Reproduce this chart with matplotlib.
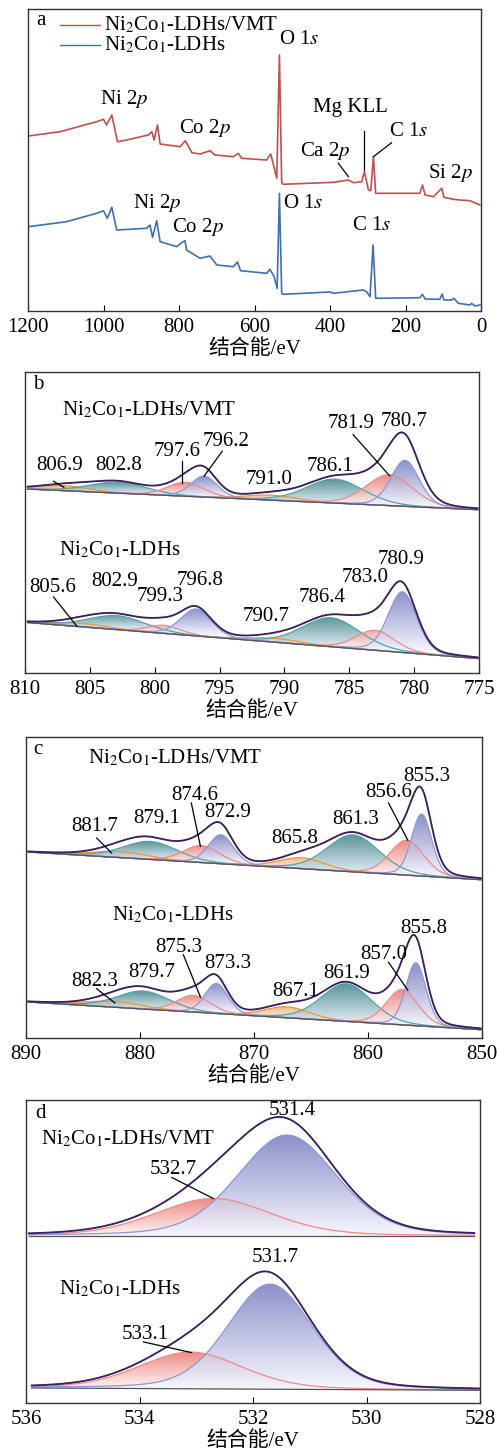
import numpy as np
import matplotlib
matplotlib.use("Agg")
import matplotlib.pyplot as plt
from matplotlib.colors import LinearSegmentedColormap

plt.rcParams['font.family'] = ['Liberation Serif', 'Noto Sans CJK SC', 'DejaVu Sans']
plt.rcParams['mathtext.fontset'] = 'stix'
FS = 15

# ---------------- Panel a : survey spectra ----------------
a_vmt_E = [1199, 1115, 1018, 1000, 992, 978, 963, 939, 881, 872, 866, 857, 850, 797, 783, 766, 744,
           718, 705, 656, 643, 634, 568, 557, 541, 534, 528, 524, 391, 351, 338, 316, 309, 298, 292,
           285, 279, 162, 155, 148, 126, 104, 98, 73, 56, 29, 3]
a_vmt_I = [175, 179.3, 189.3, 191.7, 186, 196, 169.3, 171, 176, 179.3, 171, 186, 167, 164.3, 170.3,
           158.3, 157, 160.3, 156, 154.3, 157.7, 152.7, 151, 157, 132.7, 256, 128.3, 126.7, 128.7,
           131, 128.3, 129.3, 139.3, 121, 120.3, 154.3, 117.7, 117.7, 126, 116, 114.3, 122.7, 113.7,
           111.7, 111, 110.3, 106]
a_ldh_E = [1199, 1098, 1018, 1000, 990, 978, 965, 886, 877, 870, 859, 850, 806, 793, 784, 780, 744,
           718, 700, 656, 645, 637, 568, 559, 548, 540, 534, 528, 524, 400, 391, 312, 303, 294, 286,
           279, 162, 155, 148, 109, 103, 98, 78, 72, 60, 29, 25, 16, 3]
a_ldh_I = [84.3, 89.3, 97.7, 100.3, 92.7, 103.7, 81, 82.7, 86, 73.7, 90.3, 69.3, 64.3, 68.3, 70.3, 61,
           52.7, 55, 46, 44.3, 49, 40.3, 37.7, 41.7, 34.3, 22.7, 117.7, 17.7, 16.7, 19, 17.7, 21, 19.3,
           14.3, 66, 12.7, 13.3, 16.7, 12, 11.7, 17, 11, 11, 12.7, 7.7, 6, 7.7, 5, 6]
a_ticks = [1200, 1000, 800, 600, 400, 200, 0]
series_names = ['Ni$_2$Co$_1$-LDHs/VMT', 'Ni$_2$Co$_1$-LDHs']

# ---------------- Panel b : Co 2p ----------------
b_ticks = [810, 805, 800, 795, 790, 785, 780, 775]
b_types = ['orange', 'teal', 'red', 'blue', 'orange', 'teal', 'red', 'blue']
b_top_centers = [806.9, 802.8, 797.6, 796.2, 791.0, 786.1, 781.9, 780.7]
b_top_heights = [5, 11, 14, 21, 5, 24, 31, 46]
b_top_fwhm = [4.7, 5.2, 3.3, 2.4, 4.7, 5.2, 4.2, 2.6]
b_top_base = [(809.8, 184.0), (775.1, 163.3)]
b_bot_centers = [805.6, 802.9, 799.3, 796.8, 790.7, 786.4, 783.0, 780.9]
b_bot_heights = [3.5, 14, 8, 27, 4, 29, 20, 60.7]
b_bot_fwhm = [4.7, 5.2, 3.1, 2.8, 4.7, 5.2, 3.5, 2.6]
b_bot_base = [(809.8, 50.5), (775.1, 14.5)]

# ---------------- Panel c : Ni 2p ----------------
c_ticks = [890, 880, 870, 860, 850]
c_types = ['orange', 'teal', 'red', 'blue', 'orange', 'teal', 'red', 'blue']
c_top_centers = [881.7, 879.1, 874.6, 872.9, 865.8, 861.3, 856.6, 855.3]
c_top_heights = [6, 18, 17, 29, 11, 37, 35, 62]
c_top_fwhm = [5.9, 5.6, 3.8, 2.6, 4.7, 5.4, 3.5, 2.1]
c_top_base = [(889.8, 186.0), (850.1, 158.3)]
c_bot_centers = [882.3, 879.7, 875.3, 873.3, 867.1, 861.9, 857.0, 855.8]
c_bot_heights = [6, 18, 16.7, 30, 11, 37.7, 35.3, 63]
c_bot_fwhm = [5.9, 5.4, 3.5, 2.4, 4.7, 5.2, 3.3, 2.1]
c_bot_base = [(889.8, 36.0), (850.1, 8.3)]

# ---------------- Panel d : O 1s ----------------
d_ticks = [536, 534, 532, 530, 528]
d_types = ['red', 'blue']
d_top_centers = [532.7, 531.4]
d_top_heights = [37.3, 100.7]
d_top_fwhm = [2.4, 2.05]
d_top_base = [(535.95, 167.0), (528.1, 167.0)]
d_bot_centers = [533.1, 531.7]
d_bot_heights = [36.7, 105]
d_bot_fwhm = [2.15, 1.76]
d_bot_base = [(535.9, 15.0), (528.0, 12.7)]

# styles
STYLE = {
    'blue':   dict(top='#7b82c3', bot='#f6f6fd', edge='#8d96dc'),
    'red':    dict(top='#ec7a75', bot='#fff5f5', edge='#f08a84'),
    'teal':   dict(top='#478688', bot='#d8e8f2', edge='#4fa6ae'),
    'orange': dict(top='#ef9c5c', bot='#f6e7de', edge='#f3962e'),
}
ENV = '#3b1f5e'
XLABEL = '结合能/eV'

W, H = 497, 1452
fig = plt.figure(figsize=(W / 100, H / 100), dpi=100)


def add_ax(l, r, t, b):
    return fig.add_axes([l / W, 1 - b / H, (r - l) / W, (b - t) / H])


def style_ax(ax, xlim, ylim, ticks):
    ax.set_xlim(*xlim)
    ax.set_ylim(*ylim)
    ax.set_xticks(ticks)
    ax.set_xticklabels([str(t) for t in ticks])
    ax.set_yticks([])
    ax.tick_params(axis='x', direction='in', length=4.5, width=0.8, labelsize=FS, pad=5)
    for s in ax.spines.values():
        s.set_linewidth(1.0)
        s.set_color('#333333')
    ax.set_xlabel(XLABEL, fontsize=FS, labelpad=2)


def pv(x, c, h, fw, eta=0.2):
    s = fw / 2.3548
    g = np.exp(-(x - c) ** 2 / (2 * s * s))
    lo = 1.0 / (1.0 + ((x - c) / (fw / 2)) ** 2)
    return h * (eta * lo + (1 - eta) * g)


def grad_fill(ax, x, ybot, ytop, ybase_c, st, z):
    poly = ax.fill_between(x, ybot, ytop, facecolor='none', edgecolor='none')
    path = poly.get_paths()[0]
    cmap = LinearSegmentedColormap.from_list('g', [st['bot'], st['top']])
    y0, y1 = ybot.min(), ytop.max()
    yy = np.linspace(y0, y1, 300)
    grad = np.clip((yy - ybase_c) / max(y1 - ybase_c, 1e-6), 0, 1).reshape(-1, 1)
    im = ax.imshow(grad, cmap=cmap, aspect='auto', origin='lower', vmin=0, vmax=1,
                   extent=[x.min(), x.max(), y0, y1],
                   alpha=0.88, zorder=z, interpolation='bilinear')
    im.set_clip_path(path, transform=ax.transData)


def draw_fit(ax, types, centers, heights, fwhm, base, xlim, ylim, eta=0.2):
    (e0, b0), (e1, b1) = base
    x = np.linspace(min(e0, e1), max(e0, e1), 800)
    bl = b1 + (b0 - b1) * (x - e1) / (e0 - e1)
    env = bl.copy()
    order = ['orange', 'teal', 'red', 'blue']
    comps = []
    for t, c, h, fw in zip(types, centers, heights, fwhm):
        g = pv(x, c, h, fw, eta)
        env += g
        bc = b1 + (b0 - b1) * (c - e1) / (e0 - e1)
        comps.append((order.index(t), t, g, bc))
    for k, t, g, bc in sorted(comps, key=lambda q: q[0]):
        grad_fill(ax, x, bl, bl + g, bc, STYLE[t], 2 + k * 0.1)
        ax.plot(x, bl + g, color=STYLE[t]['edge'], lw=0.9, zorder=3 + k * 0.1)
    ax.plot(x, bl, color='#555555', lw=0.9, zorder=4)
    ax.plot(x, env, color='#8a8a8a', lw=0.8, zorder=4.5)
    ax.plot(x, env, color=ENV, lw=1.3, zorder=5)
    ax.set_xlim(*xlim)
    ax.set_ylim(*ylim)


def lab(ax, x, y, s, **kw):
    ax.text(x, y, s, fontsize=FS, ha='center', va='center', zorder=10, **kw)


def line(ax, x1, y1, x2, y2):
    ax.plot([x1, x2], [y1, y2], color='black', lw=0.9, zorder=9)


# ---------- a ----------
ax = add_ax(28, 481, 9, 311)
ax.plot(a_vmt_E, a_vmt_I, color='#c0504d', lw=1.2)
ax.plot(a_ldh_E, a_ldh_I, color='#3e70b2', lw=1.2)
style_ax(ax, (1200, 0), (0, 302), a_ticks)
ax.text(0.028, 0.963, 'a', transform=ax.transAxes, fontsize=FS, ha='center', va='center')
ax.plot([0.0706, 0.159], [0.947, 0.947], color='#c0504d', lw=1.0, transform=ax.transAxes)
ax.plot([0.0706, 0.159], [0.881, 0.881], color='#3e70b2', lw=1.0, transform=ax.transAxes)
ax.text(0.168, 0.947, series_names[0], transform=ax.transAxes, fontsize=FS, ha='left', va='center')
ax.text(0.168, 0.881, series_names[1], transform=ax.transAxes, fontsize=FS, ha='left', va='center')
lab(ax, 946, 211.7, 'Ni 2$p$')
lab(ax, 731, 183.3, 'Co 2$p$')
lab(ax, 482, 272, 'O 1$s$')
lab(ax, 347, 203.7, 'Mg KLL')
lab(ax, 413, 160, 'Ca 2$p$')
line(ax, 378, 147.7, 351, 134.3)
line(ax, 309, 180.3, 309, 141)
lab(ax, 192, 179.3, 'C 1$s$')
line(ax, 237, 168.3, 285, 154.3)
lab(ax, 80, 137.7, 'Si 2$p$')
lab(ax, 857, 107.7, 'Ni 2$p$')
lab(ax, 751, 84.3, 'Co 2$p$')
lab(ax, 471, 107.7, 'O 1$s$')
lab(ax, 291, 85, 'C 1$s$')

# ---------- b ----------
ax = add_ax(25, 479, 372, 673)
draw_fit(ax, b_types, b_top_centers, b_top_heights, b_top_fwhm, b_top_base, (810, 775), (0, 301))
draw_fit(ax, b_types, b_bot_centers, b_bot_heights, b_bot_fwhm, b_bot_base, (810, 775), (0, 301))
style_ax(ax, (810, 775), (0, 301), b_ticks)
ax.text(0.028, 0.96, 'b', transform=ax.transAxes, fontsize=FS, ha='center', va='center')
lab(ax, 800.4, 262.7, series_names[0])
lab(ax, 807.3, 207.3, '806.9'); line(ax, 807.8, 191.7, 807.0, 185.7)
lab(ax, 802.8, 207.3, '802.8')
lab(ax, 798.3, 221.7, '797.6'); line(ax, 797.9, 211.7, 797.9, 190)
lab(ax, 794.5, 231.7, '796.2'); line(ax, 794.8, 221.7, 796.2, 196.7)
lab(ax, 791.2, 193.3, '791.0')
lab(ax, 786.5, 206.7, '786.1')
lab(ax, 784.9, 250, '781.9'); line(ax, 784.7, 238.3, 781.9, 197.3)
lab(ax, 780.8, 251.7, '780.7')
lab(ax, 802.7, 122.7, series_names[1])
lab(ax, 807.9, 85, '805.6'); line(ax, 807.8, 76, 806.0, 46.7)
lab(ax, 803.1, 91.7, '802.9')
lab(ax, 799.6, 76.7, '799.3')
lab(ax, 796.5, 92.7, '796.8')
lab(ax, 791.4, 56.7, '790.7')
lab(ax, 787.1, 75, '786.4')
lab(ax, 783.8, 96, '783.0')
lab(ax, 781.0, 113.3, '780.9')

# ---------- c ----------
ax = add_ax(26, 482, 737, 1038)
draw_fit(ax, c_types, c_top_centers, c_top_heights, c_top_fwhm, c_top_base, (890, 850), (0, 301))
draw_fit(ax, c_types, c_bot_centers, c_bot_heights, c_bot_fwhm, c_bot_base, (890, 850), (0, 301))
style_ax(ax, (890, 850), (0, 301), c_ticks)
ax.text(0.026, 0.958, 'c', transform=ax.transAxes, fontsize=FS, ha='center', va='center')
lab(ax, 876.9, 280, series_names[0])
lab(ax, 884.0, 211.7, '881.7'); line(ax, 883.8, 200, 882.5, 185)
lab(ax, 878.5, 219, '879.1')
lab(ax, 875.2, 242.3, '874.6'); line(ax, 875.5, 235, 874.7, 191.7)
lab(ax, 872.3, 225.7, '872.9')
lab(ax, 866.4, 199, '865.8')
lab(ax, 861.1, 218.3, '861.3')
lab(ax, 858.2, 245.7, '856.6'); line(ax, 858.2, 235, 856.5, 197.7)
lab(ax, 854.8, 261, '855.3')
lab(ax, 877.1, 123.3, series_names[1])
lab(ax, 884.0, 56.7, '882.3'); line(ax, 883.8, 49.3, 882.2, 35)
lab(ax, 879.0, 65.7, '879.7')
lab(ax, 876.6, 91, '875.3'); line(ax, 876.2, 83.3, 874.7, 41)
lab(ax, 872.3, 74.3, '873.3')
lab(ax, 866.3, 46.7, '867.1')
lab(ax, 861.9, 64, '861.9')
lab(ax, 858.6, 83.3, '857.0'); line(ax, 858.2, 75.7, 856.5, 47.7)
lab(ax, 855.1, 109, '855.8')

# ---------- d ----------
ax = add_ax(26, 480, 1100, 1403)
draw_fit(ax, d_types, d_top_centers, d_top_heights, d_top_fwhm, d_top_base, (536, 528), (0, 302.7), eta=0.25)
draw_fit(ax, d_types, d_bot_centers, d_bot_heights, d_bot_fwhm, d_bot_base, (536, 528), (0, 302.7), eta=0.25)
style_ax(ax, (536, 528), (0, 302.7), d_ticks)
ax.text(0.033, 0.954, 'd', transform=ax.transAxes, fontsize=FS, ha='center', va='center')
lab(ax, 534.2, 263.3, series_names[0])
lab(ax, 531.3, 292, '531.4')
lab(ax, 533.4, 233.3, '532.7'); line(ax, 533.43, 225.3, 532.7, 204.3)
lab(ax, 534.35, 113.7, series_names[1])
lab(ax, 531.6, 145, '531.7')
lab(ax, 533.9, 68.3, '533.1'); line(ax, 533.93, 61, 533.08, 50.3)

fig.savefig('out.png', dpi=100)
